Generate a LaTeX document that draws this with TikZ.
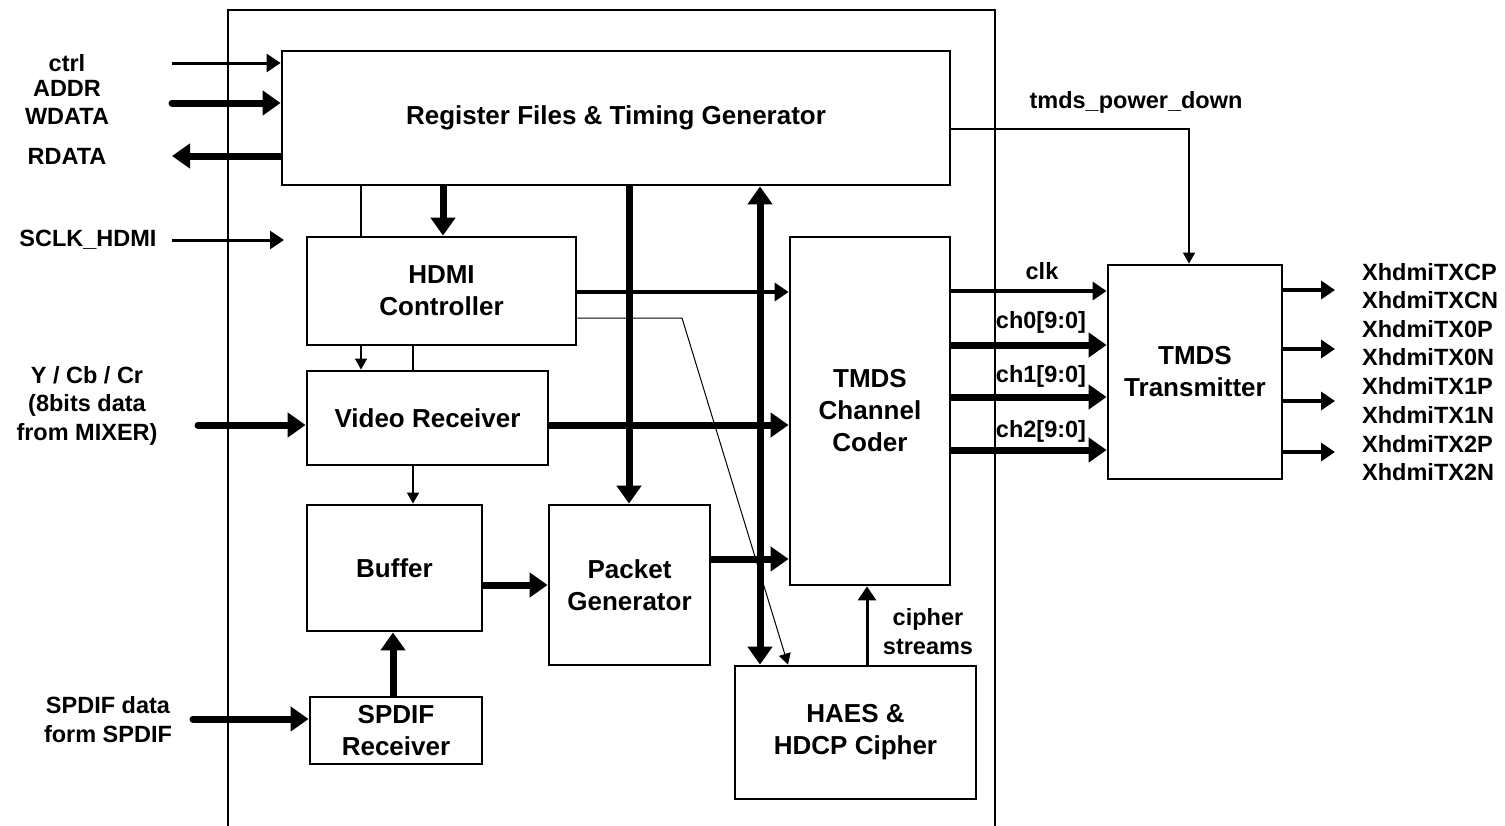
\documentclass[tikz,border=0pt]{standalone}
\usepackage{fontspec}
\setmainfont{Liberation Sans}
\usetikzlibrary{arrows.meta}
\begin{document}
\begin{tikzpicture}[x=1pt,y=-1pt,
 box/.style={draw, line width=2.8pt, inner sep=0pt, align=center, font=\bfseries\fontsize{26}{32}\selectfont},
 lbl/.style={inner sep=0pt, align=center, font=\bfseries\fontsize{23.5}{28.5}\selectfont},
 thinln/.style={line width=1.3pt},
 thinarr/.style={line width=1.3pt, -{Triangle[length=11pt,width=12pt]}},
 medarr/.style={line width=3.5pt, -{Triangle[length=14pt,width=18pt]}},
 thickarr/.style={line width=7pt, -{Triangle[length=18pt,width=24pt]}},
]
\useasboundingbox (0,0) rectangle (1505,825);
\fill[white] (0,0) rectangle (1505,825);

% frame
\draw[thinln] (228,830) -- (228,10) -- (995,10) -- (995,830);

% boxes
\node[box, minimum width=668pt, minimum height=134pt] (reg) at (616,118) {Register Files \& Timing Generator};
\node[box, minimum width=269pt, minimum height=108pt] (hdmi) at (441.5,291) {HDMI\\Controller};
\node[box, minimum width=241pt, minimum height=94pt] (vr) at (427.5,418) {Video Receiver};
\node[box, minimum width=175pt, minimum height=126pt] (buf) at (394.5,568) {Buffer};
\node[box, minimum width=172pt, minimum height=67pt] (spdif) at (396,730.5) {SPDIF\\Receiver};
\node[box, minimum width=161pt, minimum height=160pt] (pg) at (629.5,585) {Packet\\Generator};
\node[box, minimum width=160pt, minimum height=348pt] (coder) at (870,411) {TMDS\\Channel\\Coder};
\node[box, minimum width=241pt, minimum height=133pt] (haes) at (855.5,732.5) {HAES \&\\HDCP Cipher};
\node[box, minimum width=174pt, minimum height=214pt] (tx) at (1195,372) {TMDS\\Transmitter};

% labels
\node[lbl] (lctrl) at (67,63) {ctrl};
\node[lbl] (laddr) at (67,102.5) {ADDR\\WDATA};
\node[lbl] (lrdata) at (67,156) {RDATA};
\node[lbl] (lsclk) at (88,240) {SCLK\_HDMI};
\node[lbl] (lycc) at (87,405.5) {Y / Cb / Cr\\(8bits data\\from MIXER)};
\node[lbl] (lspd) at (108,719.5) {SPDIF data\\form SPDIF};
\node[lbl] (lpd) at (1136,102) {tmds\_power\_down};
\node[lbl] (lclk) at (1042,271) {clk};
\node[lbl] (lch0) at (1041,322) {ch0[9:0]};
\node[lbl] (lch1) at (1041,376) {ch1[9:0]};
\node[lbl] (lch2) at (1041,431) {ch2[9:0]};
\node[lbl] (lcs) at (928,631.5) {cipher\\streams};
\node[lbl, anchor=west] (o1a) at (1362,272) {XhdmiTXCP};
\node[lbl, anchor=west] (o1b) at (1362,300) {XhdmiTXCN};
\node[lbl, anchor=west] (o2a) at (1362,329) {XhdmiTX0P};
\node[lbl, anchor=west] (o2b) at (1362,357) {XhdmiTX0N};
\node[lbl, anchor=west] (o3a) at (1362,386) {XhdmiTX1P};
\node[lbl, anchor=west] (o3b) at (1362,415) {XhdmiTX1N};
\node[lbl, anchor=west] (o4a) at (1362,444) {XhdmiTX2P};
\node[lbl, anchor=west] (o4b) at (1362,472) {XhdmiTX2N};

% helper coordinates
\coordinate (ctrlin) at (172,63);
\coordinate (addrin) at (172,103);
\coordinate (rdout) at (172,156);
\coordinate (sclkin) at (172,240);
\coordinate (sclkend) at (284,240);
\coordinate (yin) at (198,425);
\coordinate (spdin) at (193,719);
\coordinate (pd) at (1189,129);
\coordinate (x361) at (361,0);
\coordinate (x413) at (413,0);
\coordinate (x443) at (443,0);
\coordinate (x629) at (629,0);
\coordinate (x760) at (760,0);
\coordinate (x393) at (393,0);
\coordinate (x867) at (867,0);
\coordinate (x788) at (788,0);
\coordinate (y292) at (0,292);
\coordinate (y318) at (0,318);
\coordinate (bend) at (682,318);
\coordinate (y425) at (0,425);
\coordinate (y559) at (0,559);
\coordinate (y585) at (0,585);
\coordinate (cy1) at (0,291);
\coordinate (cy2) at (0,345);
\coordinate (cy3) at (0,397);
\coordinate (cy4) at (0,450);
\coordinate (o1) at (1335,290);
\coordinate (o2) at (1335,349);
\coordinate (o3) at (1335,401);
\coordinate (o4) at (1335,452);

% left inputs
\draw[medarr, line width=3pt] (ctrlin) -- (ctrlin -| reg.west);
\draw[thickarr, line cap=round] (addrin) -- (addrin -| reg.west);
\draw[thickarr] (rdout -| reg.west) -- (rdout);
\draw[medarr, line width=3pt] (sclkin) -- (sclkend);
\draw[thickarr, line cap=round] (yin) -- (yin -| vr.west);
\draw[thickarr, line cap=round] (spdin) -- (spdin -| spdif.west);

% register file outputs
\draw[thinln] (x361 |- reg.south) -- (x361 |- hdmi.north);
\draw[thickarr] (x443 |- reg.south) -- (x443 |- hdmi.north);
\draw[thickarr] (x629 |- reg.south) -- (x629 |- pg.north);
\draw[line width=7pt, {Triangle[length=18pt,width=24pt]}-{Triangle[length=18pt,width=24pt]}] (x760 |- reg.south) -- (x760 |- haes.north);
\draw[thinarr] (pd -| reg.east) -- (pd) -- (pd |- tx.north);

% HDMI controller
\draw[medarr] (hdmi.east |- y292) -- (coder.west |- y292);
\draw[thinarr, line width=1pt] (hdmi.east |- y318) -- (bend) -- (x788 |- haes.north);
\draw[thinarr] (x361 |- hdmi.south) -- (x361 |- vr.north);
\draw[thinln] (x413 |- hdmi.south) -- (x413 |- vr.north);

% video receiver
\draw[thickarr] (vr.east |- y425) -- (coder.west |- y425);
\draw[thinarr] (x413 |- vr.south) -- (x413 |- buf.north);

% buffer, spdif, packet
\draw[thickarr] (buf.east |- y585) -- (pg.west |- y585);
\draw[thickarr] (x393 |- spdif.north) -- (x393 |- buf.south);
\draw[thickarr] (pg.east |- y559) -- (coder.west |- y559);
\draw[medarr, line width=3pt] (x867 |- haes.north) -- (x867 |- coder.south);

% coder to transmitter
\draw[medarr] (coder.east |- cy1) -- (tx.west |- cy1);
\draw[thickarr] (coder.east |- cy2) -- (tx.west |- cy2);
\draw[thickarr] (coder.east |- cy3) -- (tx.west |- cy3);
\draw[thickarr] (coder.east |- cy4) -- (tx.west |- cy4);

% outputs
\draw[medarr] (o1 -| tx.east) -- (o1);
\draw[medarr] (o2 -| tx.east) -- (o2);
\draw[medarr] (o3 -| tx.east) -- (o3);
\draw[medarr] (o4 -| tx.east) -- (o4);
\end{tikzpicture}
\end{document}
